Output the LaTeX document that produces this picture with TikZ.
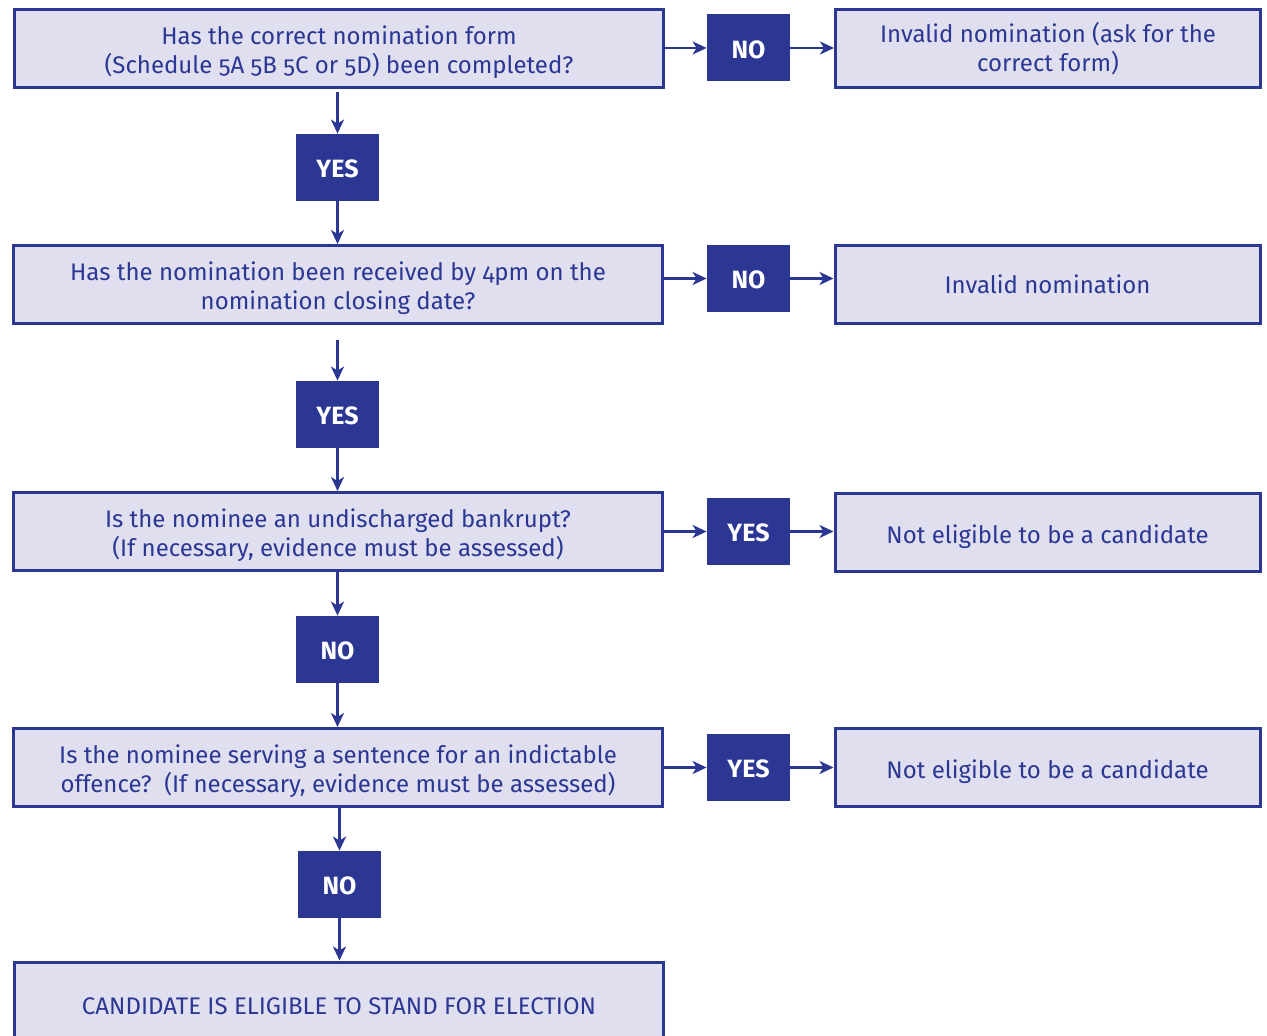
\documentclass[tikz,border=0pt]{standalone}
\usepackage{fontspec}
\setmainfont[Numbers=OldStyle]{Fira Sans}
\usetikzlibrary{arrows.meta}
\definecolor{navy}{HTML}{2C3794}
\definecolor{lilac}{HTML}{DFDFEF}
\newcommand{\strutup}{\rule{0pt}{13.5pt}}
\tikzset{
    outcome/.style={draw=navy, fill=lilac, line width=1.5pt, text=navy, align=center,
        minimum width=212.5pt, minimum height=39pt, inner sep=0pt,
        font=\fontsize{12}{14.5}\selectfont},
    question/.style={outcome, minimum width=324.5pt},
    answer/.style={fill=navy, text=white, minimum width=41.5pt, minimum height=33.5pt,
        inner sep=0pt, font=\fontsize{12.5}{14}\selectfont\bfseries,
        execute at begin node={\rule{0pt}{10.6pt}}},
    flow/.style={draw=navy, line width=1.2pt, -{Stealth[length=7pt,width=6.5pt,inset=2pt]}}
}
\begin{document}
\begin{tikzpicture}[x=0.5pt, y=-0.5pt]
        \useasboundingbox (0, 0) rectangle (1267, 1036);

        %%draw the questions
        \node[question] (q1) at(339, 48.5){\strutup Has the correct nomination form\\(Schedule 5A 5B 5C or 5D) been completed?};
        \node[question] (q2) at(338, 284.5){\strutup Has the nomination been received by 4pm on the\\nomination closing date?};
        \node[question] (q3) at(338, 531.5){\strutup Is the nominee an undischarged bankrupt?\\(If necessary, evidence must be assessed)};
        \node[question] (q4) at(338, 767.5){\strutup Is the nominee serving a sentence for an indictable\\offence?~~(If necessary, evidence must be assessed)};
        \node[question, minimum height=44pt] (q5) at(339, 1006){CANDIDATE IS ELIGIBLE TO STAND FOR ELECTION};

        %%draw the answers to the side
        \node[answer] (s1) at(748.5, 48){NO};
        \node[answer] (s2) at(748.5, 278.5){NO};
        \node[answer] (s3) at(748.5, 531.5){YES};
        \node[answer] (s4) at(748.5, 767.5){YES};

        %%draw the outcomes
        \node[outcome] (r1) at(1048, 48.5){Invalid nomination (ask for the\\correct form)};
        \node[outcome] (r2) at(1047.5, 284.5){Invalid nomination};
        \node[outcome] (r3) at(1047.5, 532.5){\strutup Not eligible to be a candidate};
        \node[outcome] (r4) at(1047.5, 767.5){\strutup Not eligible to be a candidate};

        %%draw the answers below
        \node[answer] (d1) at(337.5, 167.5){YES};
        \node[answer] (d2) at(337.5, 414.5){YES};
        \node[answer] (d3) at(337.5, 649.5){NO};
        \node[answer] (d4) at(339.5, 884.5){NO};

        %%draw the arrows across
        \draw[flow] (q1.east |- s1) to (s1.west);
        \draw[flow] (s1.east) to (r1.west |- s1.east);
        \draw[flow] (q2.east |- s2) to (s2.west);
        \draw[flow] (s2.east) to (r2.west |- s2.east);
        \draw[flow] (q3.east |- s3) to (s3.west);
        \draw[flow] (s3.east) to (r3.west |- s3.east);
        \draw[flow] (q4.east |- s4) to (s4.west);
        \draw[flow] (s4.east) to (r4.west |- s4.east);

        %%draw the arrows down
        \draw[flow, shorten <=1.5pt] (q1.south -| d1.north) to (d1.north);
        \draw[flow] (d1.south) to (q2.north -| d1.south);
        \draw[flow, shorten <=7.5pt] (q2.south -| d2.north) to (d2.north);
        \draw[flow] (d2.south) to (q3.north -| d2.south);
        \draw[flow] (q3.south -| d3.north) to (d3.north);
        \draw[flow] (d3.south) to (q4.north -| d3.south);
        \draw[flow] (q4.south -| d4.north) to (d4.north);
        \draw[flow] (d4.south) to (q5.north -| d4.south);

    \end{tikzpicture}
\end{document}
